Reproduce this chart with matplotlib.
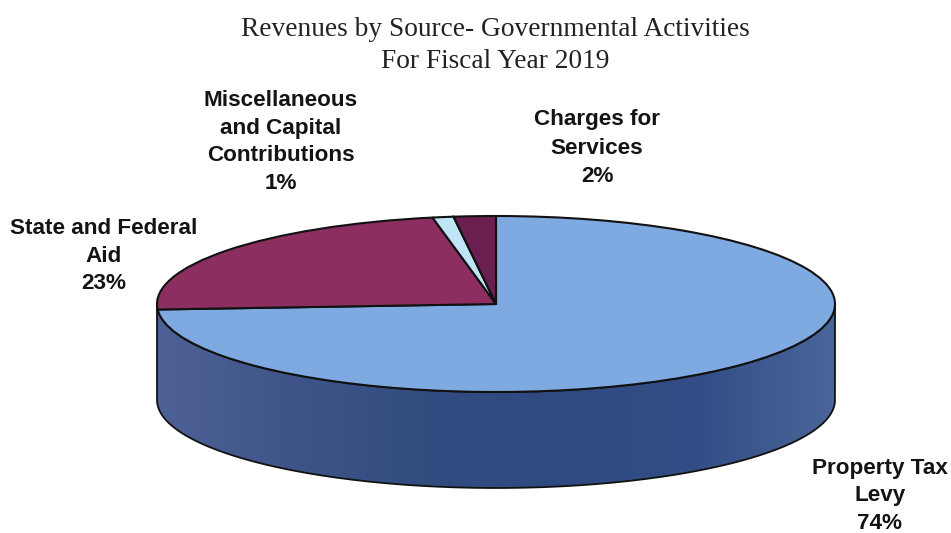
import numpy as np
import matplotlib
matplotlib.use("Agg")
import matplotlib.pyplot as plt
from matplotlib.colors import LinearSegmentedColormap
from matplotlib.patches import PathPatch
from matplotlib.path import Path
from matplotlib.transforms import Affine2D

# Revenue shares by source, percent, clockwise from twelve o'clock
categories = ["Property Tax\nLevy", "State and Federal\nAid",
              "Miscellaneous\nand Capital\nContributions", "Charges for\nServices"]
shares = [74, 23, 1, 2]
title_lines = ["Revenues by Source- Governmental Activities", "For Fiscal Year 2019"]

top_colors = ["#7fa9e1", "#8c2f60", "#bfe4f6", "#6a1f50"]
wall_shades = ["#4d6196", "#3f5589", "#324c80", "#2f4a80", "#334e86", "#4a6598"]

CX, CY, RX, RY, DEPTH = 496, 304, 339, 88, 96

fig = plt.figure(figsize=(9.51, 5.33), dpi=100, facecolor="white")
ax = fig.add_axes([0, 0, 1, 1])

disc = Affine2D().scale(RX, -RY).translate(CX, CY) + ax.transData

# Cylinder wall below the front rim, shaded left to right
theta = np.linspace(np.pi, 2 * np.pi, 300)
rim_x = CX + RX * np.cos(theta)
rim_y = CY - RY * np.sin(theta)
outline = np.vstack([
    np.column_stack([rim_x, rim_y]),
    np.column_stack([rim_x[::-1], rim_y[::-1] + DEPTH]),
])
wall = PathPatch(Path(np.vstack([outline, outline[0]])), facecolor="none",
                 edgecolor="#111111", linewidth=1.3, zorder=3)
ax.add_patch(wall)
cmap = LinearSegmentedColormap.from_list("wall", wall_shades)
shade = ax.imshow(np.linspace(0, 1, 512)[None, :], cmap=cmap, aspect="auto",
                  extent=(CX - RX, CX + RX, CY + RY + DEPTH, CY - RY), zorder=2)
shade.set_clip_path(wall.get_path(), wall.get_transform())

# Top face of the pie, squashed into an ellipse
wedges, _ = ax.pie(shares, colors=top_colors, startangle=90, counterclock=False,
                   wedgeprops={"edgecolor": "#111111", "linewidth": 1.5})
for w in wedges:
    w.set_transform(disc)
    w.set_zorder(4)

ax.set_xlim(0, 951)
ax.set_ylim(533, 0)
ax.set_aspect("auto")
ax.axis("off")

label_spots = [(880, 496), (104, 256), (281, 142), (597, 148)]
label_leading = [1.41, 1.41, 1.41, 1.5]
for text, (x, y), share, lead in zip(categories, label_spots, shares, label_leading):
    ax.text(x, y, f"{text}\n{share}%", ha="center", va="center", multialignment="center",
            family="Liberation Sans", fontweight="bold", fontsize=16.2,
            linespacing=lead, color="#141414", zorder=5)

for line, y in zip(title_lines, (30, 61)):
    ax.text(495, y, line, ha="center", va="center", family="Liberation Serif",
            fontsize=19.7, color="#222222", zorder=5)

fig.savefig("out.png", dpi=100, facecolor="white")
